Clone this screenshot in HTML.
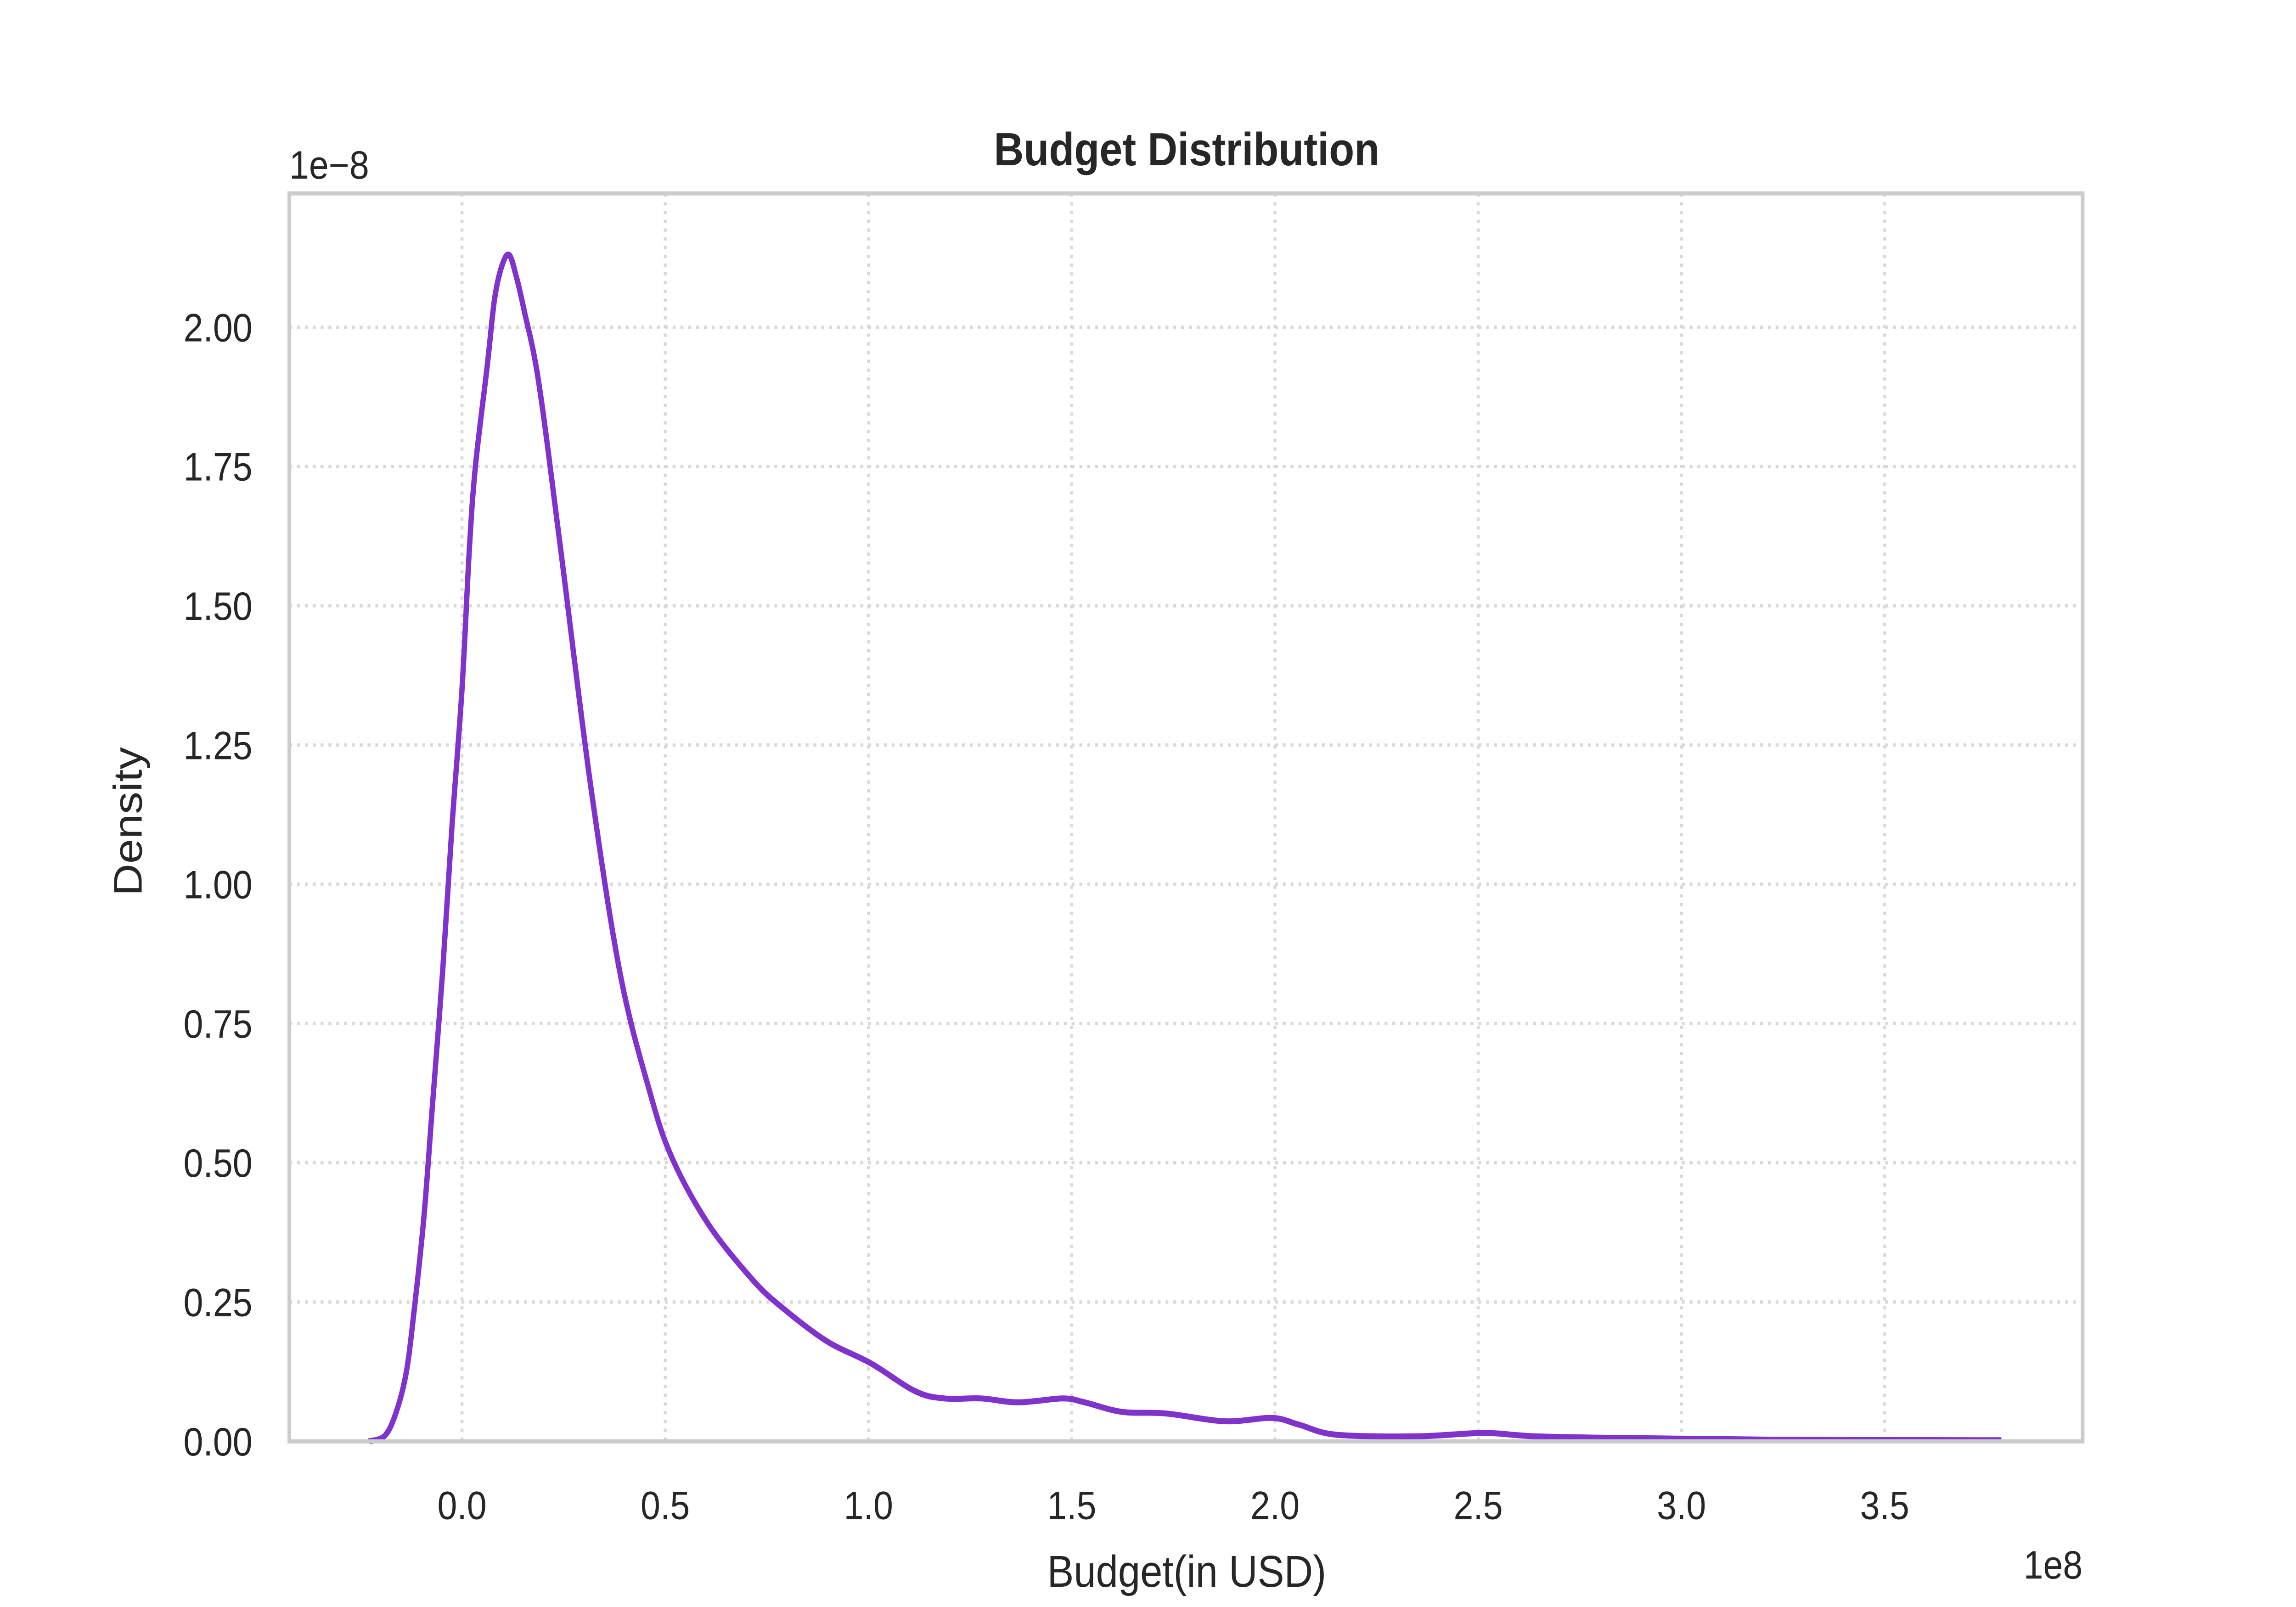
<!DOCTYPE html>
<html><head><meta charset="utf-8"><style>
html,body{margin:0;padding:0;background:#fff;width:100%;height:100%;overflow:hidden;}
svg{display:block;position:absolute;left:0;top:0;width:100vw;height:100vh;}
text{font-family:"Liberation Sans",Arial,sans-serif;fill:#262626;}
</style></head><body>
<svg id="chart" viewBox="0 0 1555.56 972.22" preserveAspectRatio="none" xmlns="http://www.w3.org/2000/svg">
<rect x="0" y="0" width="1555.56" height="972.22" fill="#fff"/>
<g id="grid"></g>
<g id="series"></g>
<rect x="196" y="117" width="1215" height="755" fill="none" stroke="#cccccc" stroke-width="2.5"/>
<g id="ticks"></g>
<text x="804" y="100" text-anchor="middle" font-size="28" font-weight="bold">Budget Distribution</text>
<text x="196" y="108" font-size="24">1e−8</text>
<text x="1411" y="955" text-anchor="end" font-size="24">1e8</text>
<text x="804" y="960" text-anchor="middle" font-size="27">Budget(in USD)</text>
<text transform="translate(96,497) rotate(-90)" text-anchor="middle" font-size="27">Density</text>
</svg>
<script>
const xTicks = [0, 0.5, 1.0, 1.5, 2.0, 2.5, 3.0, 3.5];
const xTickLabels = ["0.0","0.5","1.0","1.5","2.0","2.5","3.0","3.5"];
const yTicks = [0, 0.25, 0.5, 0.75, 1.0, 1.25, 1.5, 1.75, 2.0];
const yTickLabels = ["0.00","0.25","0.50","0.75","1.00","1.25","1.50","1.75","2.00"];
const budgetX = [-0.229,-0.19,-0.163,-0.138,-0.12,-0.094,-0.073,-0.047,-0.025,0,0.018,0.033,0.062,0.08,0.098,0.116,0.134,0.153,0.189,0.243,0.316,0.389,0.461,0.516,0.606,0.715,0.788,0.897,1.006,1.115,1.187,1.278,1.369,1.478,1.532,1.623,1.732,1.877,1.993,2.059,2.15,2.349,2.513,2.64,2.858,3.221,3.787];
const densityY = [0,0.01,0.05,0.12,0.22,0.4,0.6,0.85,1.1,1.35,1.6,1.75,1.93,2.05,2.11,2.13,2.09,2.03,1.9,1.6,1.18,0.84,0.63,0.51,0.39,0.29,0.24,0.18,0.14,0.09,0.077,0.077,0.07,0.077,0.07,0.053,0.05,0.036,0.042,0.03,0.012,0.009,0.015,0.009,0.006,0.003,0.002];

const NS = "http://www.w3.org/2000/svg";
const xScale = v => 313 + v * 275.4;
const yScale = v => 872 - v * 337;
const grid = document.getElementById('grid');
const ticks = document.getElementById('ticks');
const series = document.getElementById('series');

xTicks.forEach((t, i) => {
  const l = document.createElementNS(NS, 'line');
  l.setAttribute('x1', xScale(t)); l.setAttribute('x2', xScale(t));
  l.setAttribute('y1', 117); l.setAttribute('y2', 872);
  l.setAttribute('stroke', '#d9d9d9'); l.setAttribute('stroke-width', '2');
  l.setAttribute('stroke-dasharray', '2 3.3');
  
  
  grid.appendChild(l);
  const tx = document.createElementNS(NS, 'text');
  tx.setAttribute('x', xScale(t)); tx.setAttribute('y', 919);
  tx.setAttribute('text-anchor', 'middle'); tx.setAttribute('font-size', '24');
  tx.textContent = xTickLabels[i];
  
  
  ticks.appendChild(tx);
});
yTicks.forEach((t, i) => {
  const l = document.createElementNS(NS, 'line');
  l.setAttribute('x1', 196); l.setAttribute('x2', 1411);
  l.setAttribute('y1', yScale(t)); l.setAttribute('y2', yScale(t));
  l.setAttribute('stroke', '#d9d9d9'); l.setAttribute('stroke-width', '2');
  l.setAttribute('stroke-dasharray', '2 3.3');
  
  
  grid.appendChild(l);
  const tx = document.createElementNS(NS, 'text');
  tx.setAttribute('x', 171); tx.setAttribute('y', yScale(t) + 8.5);
  tx.setAttribute('text-anchor', 'end'); tx.setAttribute('font-size', '24');
  tx.textContent = yTickLabels[i];
  
  
  ticks.appendChild(tx);
});
const pts = budgetX.map((x, i) => [xScale(x), yScale(densityY[i])]);
let d = 'M' + pts[0][0] + ',' + pts[0][1];
for (let i = 0; i < pts.length - 1; i++) {
  const p0 = pts[i - 1] || pts[i], p1 = pts[i], p2 = pts[i + 1], p3 = pts[i + 2] || p2;
  const c1x = p1[0] + (p2[0] - p0[0]) / 6, c1y = p1[1] + (p2[1] - p0[1]) / 6;
  const c2x = p2[0] - (p3[0] - p1[0]) / 6, c2y = p2[1] - (p3[1] - p1[1]) / 6;
  d += ` C${c1x},${c1y} ${c2x},${c2y} ${p2[0]},${p2[1]}`;
}
const path = document.createElementNS(NS, 'path');
path.setAttribute('d', d);
path.setAttribute('fill', 'none');
path.setAttribute('stroke', '#8033cc');
path.setAttribute('stroke-width', '3.6');
path.setAttribute('stroke-linejoin', 'round');


series.appendChild(path);
</script>
</body></html>
